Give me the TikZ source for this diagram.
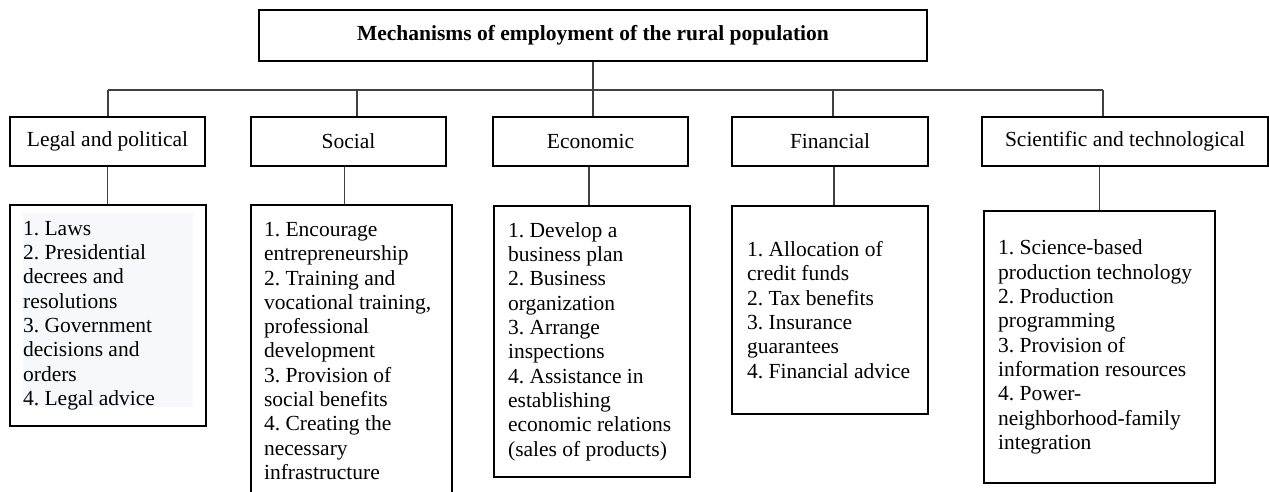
\documentclass[tikz,border=0pt]{standalone}
\usepackage{fontspec}
\setmainfont{Liberation Serif}
\frenchspacing
\begin{document}
\begin{tikzpicture}[x=1pt,y=-1pt,
  box/.style={draw=black,line width=2.2pt,rectangle,inner sep=0pt},
  lbl/.style={font=\fontsize{21.5}{24.3}\selectfont},
  lst/.style={anchor=west,align=left,inner sep=0pt,font=\fontsize{21.5}{24.3}\selectfont},
  conn/.style={draw=black!75,line width=1.2pt}]
\useasboundingbox (0,0) rectangle (1269,492);
\clip (0,0) rectangle (1269,492);
% title
\node[box,minimum width=668pt,minimum height=51pt,font=\bfseries\fontsize{21.5}{24.3}\selectfont] (title) at (593,35.5) {Mechanisms of employment of the rural population};
% level 2
\node[box,lbl,minimum width=195pt,minimum height=49pt] (leg2) at (107.5,141.5) {Legal and political};
\node[box,lbl,minimum width=195pt,minimum height=49pt] (soc2) at (348.5,141.5) {Social};
\node[box,lbl,minimum width=195pt,minimum height=49pt] (eco2) at (590.5,141.5) {Economic};
\node[box,lbl,minimum width=196pt,minimum height=49pt] (fin2) at (830,141.5) {Financial};
\node[box,lbl,minimum width=286pt,minimum height=49pt] (sci2) at (1125,141.5) {Scientific and technological};
% level 3 boxes
\fill[fill={rgb,255:red,246;green,248;blue,251}] (23,213) rectangle (193,407);
\node[box,minimum width=196pt,minimum height=221pt] (leg3) at (108,315.5) {};
\node[box,minimum width=201pt,minimum height=292pt] (soc3) at (351.5,351) {};
\node[box,minimum width=196pt,minimum height=271pt] (eco3) at (592,341.5) {};
\node[box,minimum width=196pt,minimum height=208pt] (fin3) at (830,310) {};
\node[box,minimum width=231pt,minimum height=272pt] (sci3) at (1099.5,347) {};
% level 3 texts
\node[lst] (legt) at ([xshift=14pt]leg3.west) {1. Laws\\2. Presidential\\decrees and\\resolutions\\3. Government\\decisions and\\orders\\4. Legal advice};
\node[lst] (soct) at ([xshift=14pt]soc3.west) {1. Encourage\\entrepreneurship\\2. Training and\\vocational training,\\professional\\development\\3. Provision of\\social benefits\\4. Creating the\\necessary\\infrastructure};
\node[lst] (ecot) at ([xshift=15pt]eco3.west) {1. Develop a\\business plan\\2. Business\\organization\\3. Arrange\\inspections\\4. Assistance in\\establishing\\economic relations\\(sales of products)};
\node[lst] (fint) at ([xshift=16pt]fin3.west) {1. Allocation of\\credit funds\\2. Tax benefits\\3. Insurance\\guarantees\\4. Financial advice};
\node[lst] (scit) at ([xshift=15pt]sci3.west) {1. Science-based\\production technology\\2. Production\\programming\\3. Provision of\\information resources\\4. Power-\\neighborhood-family\\integration};
% bus
\coordinate (busL) at (108,90);
\coordinate (busS) at (357,90);
\coordinate (busF) at (833,90);
\coordinate (busR) at (1103,90);
\draw[conn] (busL) -- (busR);
\draw[conn] (title.south) -- (title.south |- eco2.north);
\draw[conn] (busL) -- (busL |- leg2.north);
\draw[conn] (busS) -- (busS |- soc2.north);
\draw[conn] (busF) -- (busF |- fin2.north);
\draw[conn] (busR) -- (busR |- sci2.north);
% level 2 to level 3
\draw[conn] (leg2.south) -- (leg2.south |- leg3.north);
\draw[conn] ([xshift=-4pt]soc2.south) -- ([xshift=-4pt]soc2.south |- soc3.north);
\draw[conn] ([xshift=-1.5pt]eco2.south) -- ([xshift=-1.5pt]eco2.south |- eco3.north);
\draw[conn] ([xshift=4pt]fin2.south) -- ([xshift=4pt]fin2.south |- fin3.north);
\draw[conn] (sci2.south -| sci3.north) -- (sci3.north);
\end{tikzpicture}
\end{document}
